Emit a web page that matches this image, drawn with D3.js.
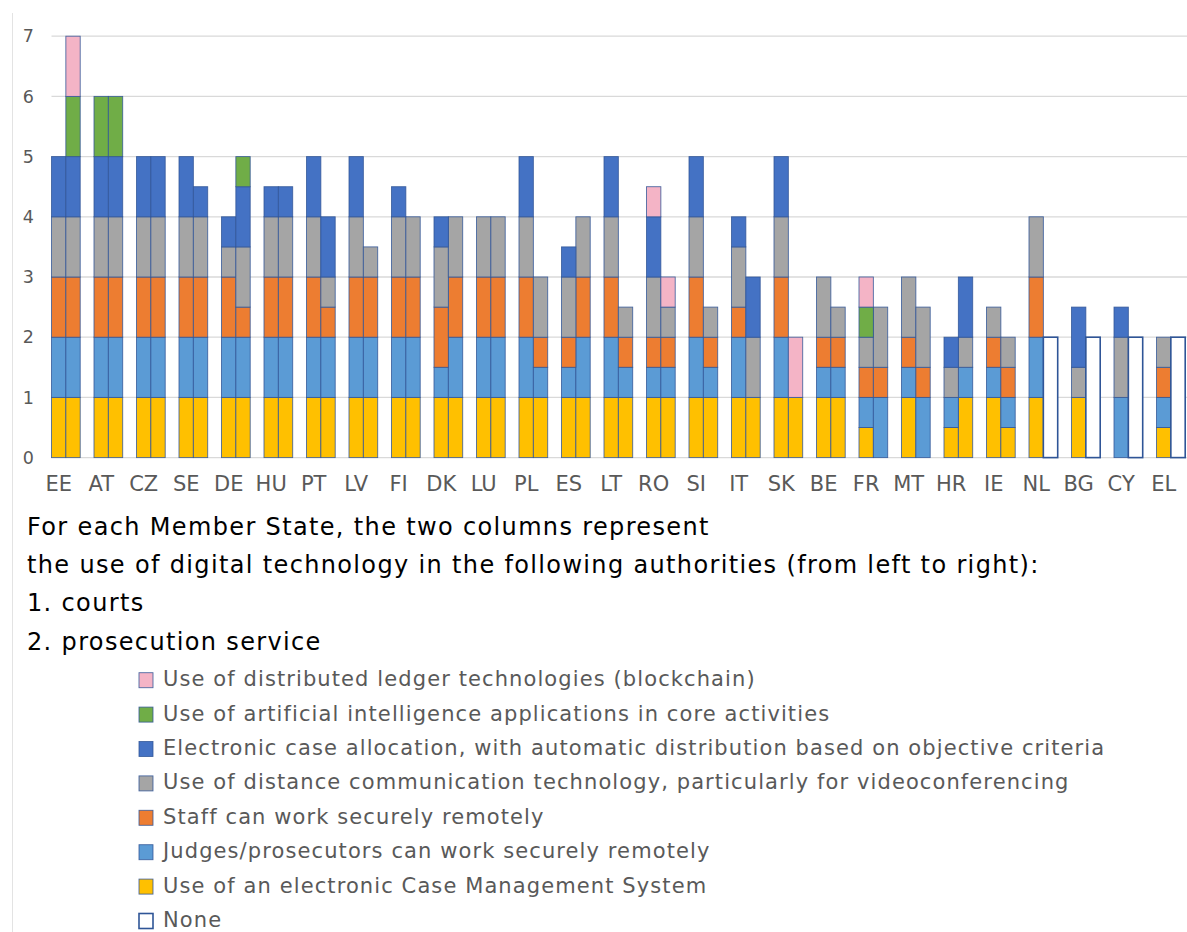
<!DOCTYPE html>
<html>
<head>
<meta charset="utf-8">
<script src="https://cdn.jsdelivr.net/npm/d3@7"></script>
<style>
  html, body { margin: 0; padding: 0; background: #fff; }
  svg { display: block; }
  text { font-family: "DejaVu Sans", sans-serif; }
</style>
</head>
<body>
<svg id="chart" width="1187" height="932"></svg>
<script>
// ---------------- DATA ----------------
const countries = ["EE","AT","CZ","SE","DE","HU","PT","LV","FI","DK","LU","PL","ES","LT","RO","SI","IT","SK","BE","FR","MT","HR","IE","NL","BG","CY","EL"];
const authorities = ["courts", "prosecution"];
const seriesKeys = ["cms","judges","staff","video","alloc","ai","chain","none"];
const seriesLabels = [
  "Use of an electronic Case Management System",
  "Judges/prosecutors can work securely remotely",
  "Staff can work securely remotely",
  "Use of distance communication technology, particularly for videoconferencing",
  "Electronic case allocation, with automatic distribution based on objective criteria",
  "Use of artificial intelligence applications in core activities",
  "Use of distributed ledger technologies (blockchain)",
  "None"
];
const seriesColors = ["#FFC000","#5B9BD5","#ED7D31","#A5A5A5","#4472C4","#70AD47","#F4B4C6","#FFFFFF"];
const yTicks = [0,1,2,3,4,5,6,7];

// courts (first column of each Member State)
const courtsCms    = [1,1,1,1,1,1,1,1,1,1,1,1,1,1,1,1,1,1,1,0.5,1,0.5,1,1,1,0,0.5];
const courtsJudges = [1,1,1,1,1,1,1,1,1,0.5,1,1,0.5,1,0.5,1,1,1,0.5,0.5,0.5,0.5,0.5,1,0,1,0.5];
const courtsStaff  = [1,1,1,1,1,1,1,1,1,1,1,1,0.5,1,0.5,1,0.5,1,0.5,0.5,0.5,0,0.5,1,0,0,0.5];
const courtsVideo  = [1,1,1,1,0.5,1,1,1,1,1,1,1,1,1,1,1,1,1,1,0.5,1,0.5,0.5,1,0.5,1,0.5];
const courtsAlloc  = [1,1,1,1,0.5,0.5,1,1,0.5,0.5,0,1,0.5,1,1,1,0.5,1,0,0,0,0.5,0,0,1,0.5,0];
const courtsAi     = [0,1,0,0,0,0,0,0,0,0,0,0,0,0,0,0,0,0,0,0.5,0,0,0,0,0,0,0];
const courtsChain  = [0,0,0,0,0,0,0,0,0,0,0,0,0,0,0.5,0,0,0,0,0.5,0,0,0,0,0,0,0];
const courtsNone   = [0,0,0,0,0,0,0,0,0,0,0,0,0,0,0,0,0,0,0,0,0,0,0,0,0,0,0];

// prosecution service (second column of each Member State)
const prosCms    = [1,1,1,1,1,1,1,1,1,1,1,1,1,1,1,1,1,1,1,0,0,1,0.5,0,0,0,0];
const prosJudges = [1,1,1,1,1,1,1,1,1,1,1,0.5,1,0.5,0.5,0.5,0,0,0.5,1,1,0.5,0.5,0,0,0,0];
const prosStaff  = [1,1,1,1,0.5,1,0.5,1,1,1,1,0.5,1,0.5,0.5,0.5,0,0,0.5,0.5,0.5,0,0.5,0,0,0,0];
const prosVideo  = [1,1,1,1,1,1,0.5,0.5,1,1,1,1,1,0.5,0.5,0.5,1,0,0.5,1,1,0.5,0.5,0,0,0,0];
const prosAlloc  = [1,1,1,0.5,1,0.5,1,0,0,0,0,0,0,0,0,0,1,0,0,0,0,1,0,0,0,0,0];
const prosAi     = [1,1,0,0,0.5,0,0,0,0,0,0,0,0,0,0,0,0,0,0,0,0,0,0,0,0,0,0];
const prosChain  = [1,0,0,0,0,0,0,0,0,0,0,0,0,0,0.5,0,0,1,0,0,0,0,0,0,0,0,0];
const prosNone   = [0,0,0,0,0,0,0,0,0,0,0,0,0,0,0,0,0,0,0,0,0,0,0,2,2,2,2];

const noteLines = [
  "For each Member State, the two columns represent",
  "the use of digital technology in the following authorities (from left to right):",
  "1. courts",
  "2. prosecution service"
];

// ---------------- BUILD ROWS ----------------
const courtsSeries = [courtsCms,courtsJudges,courtsStaff,courtsVideo,courtsAlloc,courtsAi,courtsChain,courtsNone];
const prosSeries   = [prosCms,prosJudges,prosStaff,prosVideo,prosAlloc,prosAi,prosChain,prosNone];
const rows = [];
countries.forEach((c, i) => {
  [courtsSeries, prosSeries].forEach((ser, a) => {
    const r = { country: c, auth: authorities[a] };
    seriesKeys.forEach((k, s) => r[k] = ser[s][i]);
    rows.push(r);
  });
});
const stacked = d3.stack().keys(seriesKeys)(rows);

// ---------------- SCALES ----------------
const svg = d3.select("#chart");
const plotLeft = 51.5, step = 42.5;
const x = d3.scaleBand().domain(countries).range([plotLeft, plotLeft + step * countries.length]).paddingInner(0).paddingOuter(0);
const xSub = d3.scaleBand().domain(["courts","prosecution","gap"]).range([0, x.bandwidth() * 1.013]);
const y = d3.scaleLinear().domain([0, 7]).range([457.6, 36.2]);

// frame line
svg.append("line").attr("x1", 12.5).attr("x2", 12.5).attr("y1", 13).attr("y2", 932)
  .attr("stroke", "#e3e3e3").attr("stroke-width", 1);

// gridlines
svg.append("g").selectAll("line").data(yTicks).join("line")
  .attr("x1", plotLeft).attr("x2", 1187)
  .attr("y1", d => y(d)).attr("y2", d => y(d))
  .attr("stroke", "#d9d9d9").attr("stroke-width", 1.3);

// y axis labels
const yAxis = d3.axisLeft(y).tickValues(yTicks).tickSize(0).tickPadding(0).tickFormat(d3.format("d"));
const yg = svg.append("g").attr("transform", "translate(34,0)").call(yAxis);
yg.select(".domain").remove();
yg.selectAll("text").attr("font-family", "DejaVu Sans").attr("font-size", 17.5).attr("fill", "#595959");

// bars
const layers = svg.append("g").selectAll("g").data(stacked).join("g")
  .attr("fill", (d, i) => seriesColors[i]);
layers.each(function(layer, i) {
  d3.select(this).selectAll("rect").data(layer.filter(d => d[1] - d[0] > 0)).join("rect")
    .attr("x", d => x(d.data.country) + xSub(d.data.auth))
    .attr("width", xSub.bandwidth())
    .attr("y", d => y(d[1]))
    .attr("height", d => y(d[0]) - y(d[1]))
    .attr("stroke", "#2F5597")
    .attr("stroke-width", seriesKeys[i] === "none" ? 1.6 : 0.9)
    .attr("stroke-opacity", seriesKeys[i] === "none" ? 1 : 0.85);
});

// x axis labels (centered under the courts column)
const xAxis = d3.axisBottom(x).tickSize(0).tickPadding(0);
const xg = svg.append("g").attr("transform", "translate(0,476)").call(xAxis);
xg.select(".domain").remove();
xg.selectAll(".tick").attr("transform", d => `translate(${x(d) + xSub("courts") + xSub.bandwidth() / 2},0)`);
xg.selectAll("text").attr("font-family", "DejaVu Sans").attr("font-size", 21).attr("fill", "#595959").attr("dy", "0.71em");

// note text
svg.append("g").selectAll("text").data(noteLines).join("text")
  .attr("x", 27).attr("y", (d, i) => 535 + i * 38.2)
  .attr("font-size", 24).attr("letter-spacing", 1.35).attr("fill", "#000")
  .text(d => d);

// legend (top = last series)
const legendOrder = d3.range(seriesKeys.length).reverse().slice(1).concat([7]);
const lg = svg.append("g").selectAll("g").data(legendOrder).join("g")
  .attr("transform", (d, i) => `translate(139,${680.2 + i * 34.4})`);
lg.append("rect").attr("x", 0).attr("y", -7.5).attr("width", 14).attr("height", 15)
  .attr("fill", d => seriesColors[d]).attr("stroke", "#2F5597")
  .attr("stroke-width", d => seriesKeys[d] === "none" ? 1.6 : 0.9)
  .attr("stroke-opacity", d => seriesKeys[d] === "none" ? 1 : 0.85);
lg.append("text").attr("x", 24).attr("y", 6)
  .attr("font-size", 21).attr("letter-spacing", 1.1).attr("fill", "#595959")
  .text(d => seriesLabels[d]);
</script>
</body>
</html>
